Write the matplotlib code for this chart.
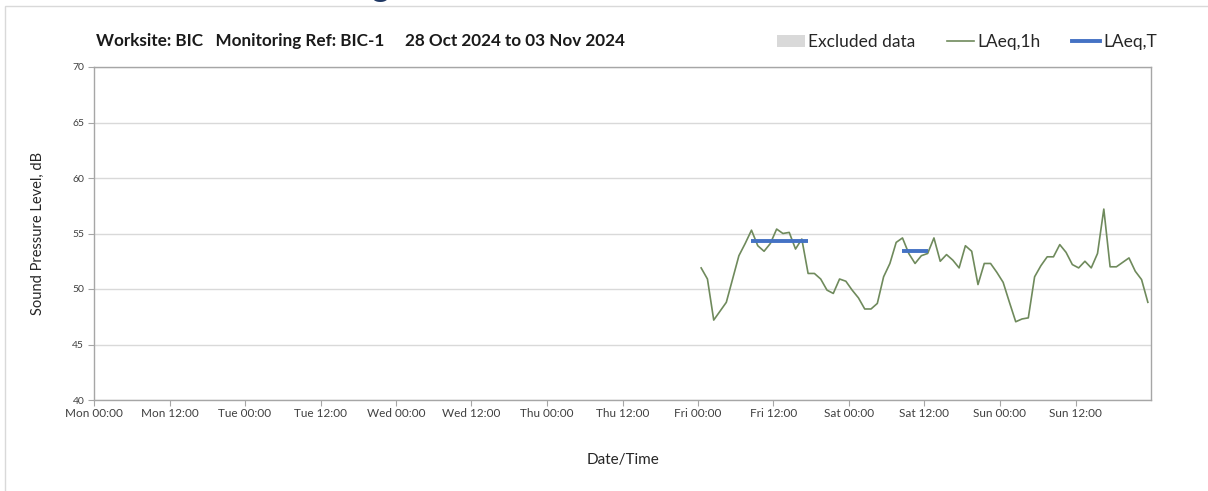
"""Weekly noise monitoring chart: LAeq,1h and LAeq,T for worksite BIC."""
import numpy as np
import matplotlib.pyplot as plt
from matplotlib.patches import Patch, Rectangle
from matplotlib.lines import Line2D

plt.rcParams['font.family'] = ['Lato', 'DejaVu Sans']

# hours from Mon 00:00
tick_hours = list(range(0, 168, 12))
tick_labels = ['Mon 00:00', 'Mon 12:00', 'Tue 00:00', 'Tue 12:00', 'Wed 00:00', 'Wed 12:00',
               'Thu 00:00', 'Thu 12:00', 'Fri 00:00', 'Fri 12:00', 'Sat 00:00', 'Sat 12:00',
               'Sun 00:00', 'Sun 12:00']

# hourly LAeq values, Fri 00:30 onwards
laeq_1h_start = 96.5
laeq_1h = [51.9, 50.9, 47.2, 48.0, 48.8, 50.9, 53.0, 54.1, 55.3, 53.9, 53.4, 54.1,
           55.4, 55.0, 55.1, 53.6, 54.5, 51.4, 51.4, 50.9, 49.9, 49.6, 50.9, 50.7,
           49.9, 49.2, 48.2, 48.2, 48.7, 51.1, 52.3, 54.2, 54.6, 53.2, 52.3, 53.0,
           53.2, 54.6, 52.5, 53.1, 52.6, 51.9, 53.9, 53.4, 50.4, 52.3, 52.3, 51.5,
           50.6, 48.8, 47.05, 47.3, 47.4, 51.1, 52.1, 52.9, 52.9, 54.0, 53.3, 52.2,
           51.9, 52.5, 51.9, 53.2, 57.2, 52.0, 52.0, 52.4, 52.8, 51.6, 50.85, 48.8]

# LAeq,T periods (start hour, end hour, level)
laeq_t_start = [104.5, 128.5]
laeq_t_end = [113.5, 132.5]
laeq_t_level = [54.3, 53.4]

W, H = 1208, 491
fig = plt.figure(figsize=(W / 100, H / 100), dpi=100)
ax = fig.add_axes([94 / W, 1 - 400 / H, (1151 - 94) / W, (400 - 67) / H])

hours = laeq_1h_start + np.arange(len(laeq_1h))
ax.plot(hours, laeq_1h, color='#6f8a5c', lw=1.2, zorder=3)
for s, e, lv in zip(laeq_t_start, laeq_t_end, laeq_t_level):
    ax.plot([s, e], [lv, lv], color='#4472c4', lw=2.8, solid_capstyle='butt', zorder=4)

ax.set_xlim(0, 168)
ax.set_ylim(40, 70)
ax.set_yticks(range(40, 71, 5))
ax.set_xticks(tick_hours)
ax.set_xticklabels(tick_labels)
ax.set_xticks(range(24, 168, 24), minor=True)
ax.tick_params(axis='x', which='major', length=4, color='#a6a6a6', labelsize=8.5,
               labelcolor='#404040', pad=2)
ax.tick_params(axis='x', which='minor', length=0)
ax.tick_params(axis='y', length=4, color='#a6a6a6', labelsize=7.5, labelcolor='#404040', pad=3)
ax.grid(axis='y', color='#d9d9d9', lw=1)
ax.grid(axis='x', which='minor', color='#d9d9d9', lw=1)
ax.set_axisbelow(True)
for sp in ax.spines.values():
    sp.set_color('#a6a6a6')
    sp.set_linewidth(1)

ax.set_ylabel('Sound Pressure Level, dB', fontsize=10.5, color='#262626', labelpad=20)
ax.set_xlabel('Date/Time', fontsize=11, color='#262626', labelpad=24)

fig.text(96 / W, 1 - 41 / H,
         'Worksite: BIC   Monitoring Ref: BIC-1     28 Oct 2024 to 03 Nov 2024',
         fontsize=12.3, fontweight='bold', color='#1a1a1a', va='center', ha='left')

handles = [Patch(facecolor='#d9d9d9', edgecolor='none'),
           Line2D([], [], color='#6f8a5c', lw=1.2),
           Line2D([], [], color='#4472c4', lw=2.8)]
fig.legend(handles, ['Excluded data', 'LAeq,1h', 'LAeq,T'], ncol=3, frameon=False,
           loc='center right', bbox_to_anchor=(1173 / W, 1 - 42 / H), fontsize=12.5,
           handlelength=1.6, handletextpad=0.2, columnspacing=1.8, labelcolor='#262626')

# chart frame and clipped heading above
fig.add_artist(Rectangle((5 / W, -0.1), 1.2, 1.1 - 6 / H, transform=fig.transFigure,
                         fill=False, edgecolor='#d9d9d9', lw=1))
fig.text(380 / W, 1 + 3 / H, 'g', fontsize=24, fontweight='bold', color='#1f3864',
         ha='center', va='baseline')

fig.savefig('out.png', dpi=100)
